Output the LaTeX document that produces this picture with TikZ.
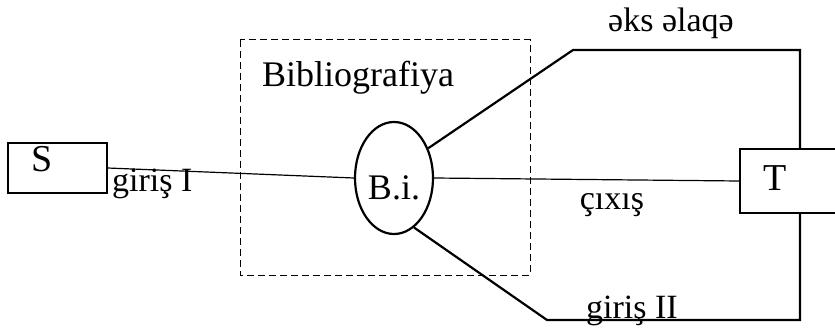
\documentclass[tikz,border=0pt]{standalone}
\usepackage{fontspec}
\setmainfont{Liberation Serif}
\usetikzlibrary{shapes.geometric}
\begin{document}
\begin{tikzpicture}[x=1pt,y=-1pt,
  box/.style={draw,line width=1.5pt,inner sep=0pt},
  lbl/.style={inner sep=0pt,font=\fontsize{34}{38}\selectfont},
  big/.style={inner sep=0pt,font=\fontsize{38}{42}\selectfont},
  thin/.style={line width=1.2pt},
  thick/.style={line width=2.2pt}]
\clip (0,0) rectangle (835,331);
\fill[white] (0,0) rectangle (835,331);
% boxes
\node (S) [box,minimum width=99pt,minimum height=50pt] at (57.5,168) {};
\node (Stxt) [big,anchor=base] at (42,172) {S};
\node (T) [box,minimum width=120pt,minimum height=64pt] at (800,181) {};
\node (Ttxt) [big,anchor=base] at (775,191) {T};
\node (bi) [draw,thick,ellipse,minimum width=78pt,minimum height=112pt,inner sep=0pt] at (394,178) {};
\node (bitxt) [inner sep=0pt,font=\fontsize{36}{40}\selectfont,anchor=base] at (394,200) {B.i.};
% dashed frame
\draw[line width=1pt,dash pattern=on 7pt off 4pt] (240,40) rectangle (530,275);
\node (bib) [inner sep=0pt,font=\fontsize{36}{40}\selectfont,anchor=base west] at (262,87) {Bibliografiya};
% connectors
\draw[thin] (S.east) -- (bi.west);
\draw[thin] (bi.east) -- (T.west);
\coordinate (u1) at (573,50);
\coordinate (l1) at (547,320);
\draw[thick,line join=miter] (bi.41) -- (u1) -| (T.north);
\draw[thick,line join=miter] (bi.-68) -- (l1) -| (T.south);
% labels
\node (g1) [lbl,anchor=base west] at (112,192) {giriş I};
\node (cx) [lbl,anchor=base] at (612,210) {çıxış};
\node (ek) [lbl,anchor=base] at (671,32) {əks əlaqə};
\node (g2) [lbl,anchor=base] at (632,318) {giriş II};
\end{tikzpicture}
\end{document}
